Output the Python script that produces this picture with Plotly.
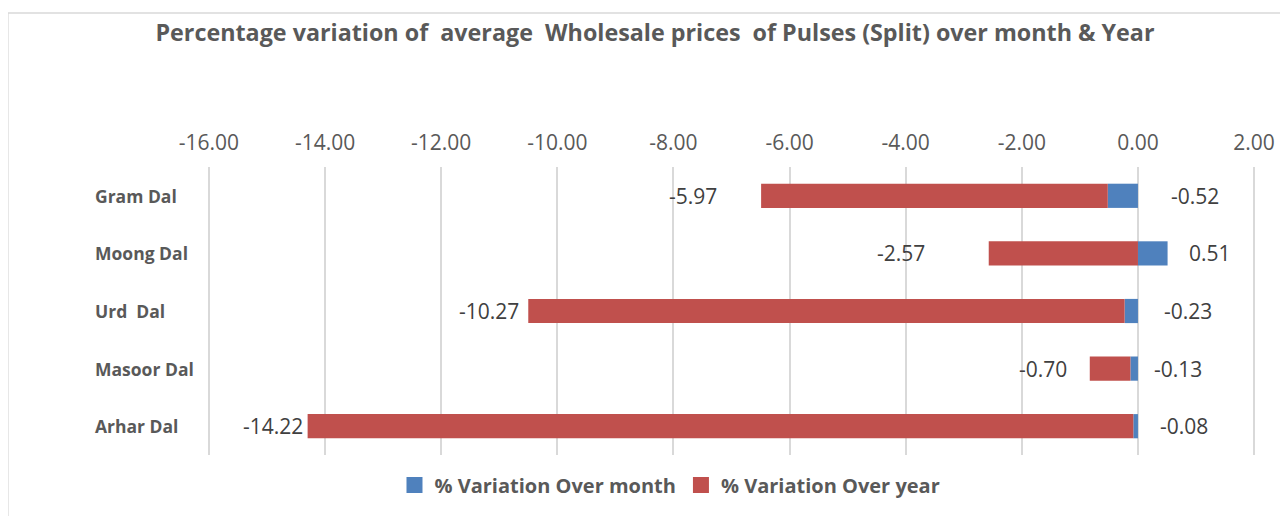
import plotly.graph_objects as go

categories = ["Gram Dal", "Moong Dal", "Urd  Dal", "Masoor Dal", "Arhar Dal"]
over_month = [-0.52, 0.51, -0.23, -0.13, -0.08]
over_year = [-5.97, -2.57, -10.27, -0.70, -14.22]
tick_vals = [-16, -14, -12, -10, -8, -6, -4, -2, 0, 2]
series_names = ["% Variation Over month", "% Variation Over year"]

# label gaps (px) between bar ends and their value labels
year_gap = [42, 62, 7, 21, 3]
month_gap = [31, 19, 24, 14, 20]

BLUE = "#4F81BD"
RED = "#C0504D"
GRID = "#D9D9D9"
TXT = "#595959"
LBL = "#404040"
FONT = "Open Sans"

OFF = 8  # page body margin
W, H = 1288, 516
PAD = 0.05  # axis padding so the end gridlines are drawn
unit = (1254 - 209) / 18.0
PL, PT, PR, PB = 209 - PAD * unit, 167, 1254 + PAD * unit, 455  # plot area in page pixels
L, T = PL - OFF, PT - OFF
R, B = W - (PR - OFF), H - (PB - OFF)
pw = PR - PL
ph = PB - PT


def px(page_x):
    return (page_x - PL) / pw


def py(page_y):
    return (PB - page_y) / ph


fig = go.Figure()
fig.add_trace(go.Bar(y=categories, x=over_month, orientation="h", name=series_names[0],
                     marker=dict(color=BLUE, line=dict(width=0)), showlegend=False))
fig.add_trace(go.Bar(y=categories, x=over_year, orientation="h", name=series_names[1],
                     marker=dict(color=RED, line=dict(width=0)), showlegend=False))
# legend entries with larger square swatches
for nm, col in zip(series_names, [BLUE, RED]):
    fig.add_trace(go.Scatter(x=[None], y=[None], mode="markers", name=f"<b>{nm}</b>",
                             marker=dict(symbol="square", size=16, color=col), hoverinfo="skip"))

ann = []
for i, c in enumerate(categories):
    m = over_month[i]
    yv = over_year[i]
    neg_base = m if m < 0 else 0
    ann.append(dict(x=neg_base + yv, y=c, xref="x", yref="y", text=f"{yv:.2f}", showarrow=False,
                    xanchor="right", xshift=-year_gap[i], font=dict(family=FONT, size=21, color=LBL)))
    ann.append(dict(x=max(0, m), y=c, xref="x", yref="y", text=f"{m:.2f}", showarrow=False,
                    xanchor="left", xshift=month_gap[i], font=dict(family=FONT, size=21, color=LBL)))
    ann.append(dict(x=px(93), y=c, xref="paper", yref="y", text=f"<b>{c.replace('  ', '&nbsp; ')}</b>",
                    showarrow=False, xanchor="left", font=dict(family=FONT, size=17.5, color=TXT)))

title_text = "Percentage variation of&nbsp; average&nbsp; Wholesale prices&nbsp; of Pulses (Split) over month &amp; Year"

fig.update_layout(
    width=W, height=H,
    margin=dict(l=L, r=R, t=T, b=B),
    paper_bgcolor="white", plot_bgcolor="white",
    barmode="relative", bargap=0.58,
    title=dict(text=f"<b>{title_text}</b>", x=(655 - OFF) / W, xref="container", xanchor="center",
               y=1 - (33 - OFF) / H, yref="container", yanchor="middle",
               font=dict(family=FONT, size=23.3, color=TXT)),
    xaxis=dict(side="top", range=[tick_vals[0] - PAD, tick_vals[-1] + PAD], tickvals=tick_vals,
               ticktext=[f"{v:.2f}" for v in tick_vals],
               showgrid=True, gridcolor=GRID, gridwidth=1.5, zeroline=False, showline=False,
               ticks="", ticklabelstandoff=12,
               tickfont=dict(family=FONT, size=21, color=TXT), fixedrange=True),
    yaxis=dict(categoryorder="array", categoryarray=categories, autorange="reversed",
               showticklabels=False, showgrid=False, zeroline=False, showline=False, ticks=""),
    showlegend=True,
    legend=dict(orientation="h", x=px(670), xanchor="center", y=py(485),
                yanchor="middle", font=dict(family=FONT, size=20, color=TXT), traceorder="normal",
                itemwidth=30),
    annotations=ann,
    shapes=[dict(type="rect", xref="paper", yref="paper", x0=px(8), x1=1.2,
                 y0=-0.5, y1=py(13), line=dict(color=GRID, width=1.5),
                 fillcolor="rgba(0,0,0,0)", layer="below")],
)

fig.write_html("out.html")
